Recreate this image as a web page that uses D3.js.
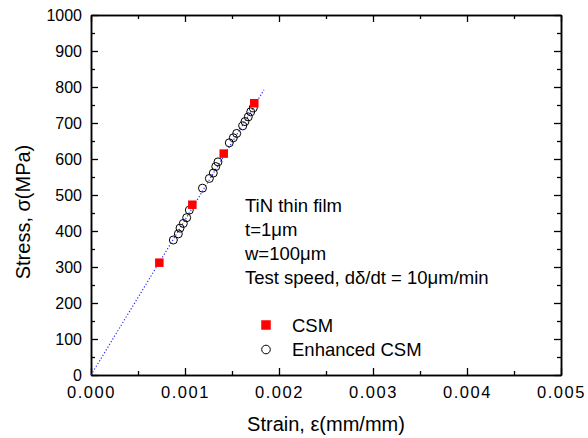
<!DOCTYPE html>
<html>
<head>
<meta charset="utf-8">
<script src="https://cdn.jsdelivr.net/npm/d3@7"></script>
<style>
  html, body { margin: 0; padding: 0; background: #fff; }
  svg { display: block; font-family: "Liberation Sans", Arial, sans-serif; }
</style>
</head>
<body>
<svg id="chart" width="588" height="438"></svg>
<script>
// CSM measurements (strain, stress in MPa)
const csmStrain = [0.000727, 0.001078, 0.001412, 0.001737];
const csmStress = [312, 473, 615, 755];

// Enhanced CSM measurements
const ecsmStrain = [0.000876, 0.000929, 0.000947, 0.000982, 0.001018, 0.001046,
                    0.001186, 0.001259, 0.001301, 0.001327, 0.001351,
                    0.001471, 0.001514, 0.001550, 0.001614, 0.001638, 0.001673, 0.001699, 0.001727];
const ecsmStress = [375, 392, 408, 421, 437, 458,
                    519, 546, 561, 579, 592,
                    645, 659, 671, 692, 704, 717, 731, 742];

// Linear elastic fit through the origin
const fitStrain = [0, 0.00184];
const fitStress = [0, 792];

// Axis ticks
const xTicks = [0, 0.001, 0.002, 0.003, 0.004, 0.005];
const xMinor = [0.0005, 0.0015, 0.0025, 0.0035, 0.0045];
const yTicks = [0, 100, 200, 300, 400, 500, 600, 700, 800, 900, 1000];
const yMinor = [50, 150, 250, 350, 450, 550, 650, 750, 850, 950];

const noteLines = ["TiN thin film", "t=1\u03bcm", "w=100\u03bcm", "Test speed, d\u03b4/dt = 10\u03bcm/min"];
const legendLabels = ["CSM", "Enhanced CSM"];

const svg = d3.select("#chart");
const x = d3.scaleLinear().domain([0, 0.005]).range([91, 561]);
const y = d3.scaleLinear().domain([0, 1000]).range([375, 15]);

// Frame axes with inward ticks on all four sides
function styleAxis(g) {
  g.select(".domain").attr("stroke", "#000").attr("stroke-width", 1.5);
  g.selectAll(".tick line").attr("stroke", "#000").attr("stroke-width", 1.3);
}

const fmtX = d3.format(".3f");
svg.append("g").attr("transform", `translate(0,${y(0)})`)
  .call(d3.axisBottom(x).tickValues(xTicks).tickFormat(fmtX).tickSizeInner(-7).tickSizeOuter(0).tickPadding(11))
  .call(styleAxis)
  .call(g => g.selectAll("text").attr("font-size", 16.5).attr("fill", "#000")
      .attr("font-family", "Liberation Sans, Arial, sans-serif").style("letter-spacing", "1.5px"));
svg.append("g").attr("transform", `translate(0,${y(0)})`)
  .call(d3.axisBottom(x).tickValues(xMinor).tickFormat("").tickSizeInner(-4).tickSizeOuter(0))
  .call(styleAxis);

svg.append("g").attr("transform", `translate(0,${y(1000)})`)
  .call(d3.axisTop(x).tickValues(xTicks).tickFormat("").tickSizeInner(-7).tickSizeOuter(0))
  .call(styleAxis);
svg.append("g").attr("transform", `translate(0,${y(1000)})`)
  .call(d3.axisTop(x).tickValues(xMinor).tickFormat("").tickSizeInner(-4).tickSizeOuter(0))
  .call(styleAxis);

svg.append("g").attr("transform", `translate(${x(0)},0)`)
  .call(d3.axisLeft(y).tickValues(yTicks).tickFormat(d3.format("d")).tickSizeInner(-7).tickSizeOuter(0).tickPadding(9))
  .call(styleAxis)
  .call(g => g.selectAll("text").attr("font-size", 16).attr("fill", "#000")
      .attr("font-family", "Liberation Sans, Arial, sans-serif"));
svg.append("g").attr("transform", `translate(${x(0)},0)`)
  .call(d3.axisLeft(y).tickValues(yMinor).tickFormat("").tickSizeInner(-4).tickSizeOuter(0))
  .call(styleAxis);

svg.append("g").attr("transform", `translate(${x(0.005)},0)`)
  .call(d3.axisRight(y).tickValues(yTicks).tickFormat("").tickSizeInner(-7).tickSizeOuter(0))
  .call(styleAxis);
svg.append("g").attr("transform", `translate(${x(0.005)},0)`)
  .call(d3.axisRight(y).tickValues(yMinor).tickFormat("").tickSizeInner(-4).tickSizeOuter(0))
  .call(styleAxis);

// Axis titles
svg.append("text")
  .attr("x", (x(0) + x(0.005)) / 2).attr("y", 431)
  .attr("text-anchor", "middle").attr("font-size", 20)
  .text("Strain, \u03b5(mm/mm)");
svg.append("text")
  .attr("transform", `translate(30,${212}) rotate(-90)`)
  .attr("text-anchor", "middle").attr("font-size", 20)
  .text("Stress, \u03c3(MPa)");

// Dotted elastic fit line
const fitData = fitStrain.map((s, i) => [s, fitStress[i]]);
svg.append("path")
  .datum(fitData)
  .attr("d", d3.line().x(d => x(d[0])).y(d => y(d[1])))
  .attr("fill", "none").attr("stroke", "#2b2bff").attr("stroke-width", 1.2)
  .attr("stroke-dasharray", "1.2,2");

// Enhanced CSM circles
const ecsm = ecsmStrain.map((s, i) => ({ s, v: ecsmStress[i] }));
svg.append("g").selectAll("circle").data(ecsm).join("circle")
  .attr("cx", d => x(d.s)).attr("cy", d => y(d.v)).attr("r", 4)
  .attr("fill", "none").attr("stroke", "#000").attr("stroke-width", 1);

// CSM squares
const sq = 8.5;
const csm = csmStrain.map((s, i) => ({ s, v: csmStress[i] }));
svg.append("g").selectAll("rect").data(csm).join("rect")
  .attr("x", d => x(d.s) - sq / 2).attr("y", d => y(d.v) - sq / 2)
  .attr("width", sq).attr("height", sq).attr("fill", "#ff0000");

// Test-condition note
svg.append("g").selectAll("text").data(noteLines).join("text")
  .attr("x", 245).attr("y", (d, i) => 212 + i * 24)
  .attr("font-size", 18.5).attr("fill", "#000")
  .text(d => d);

// Legend
const legend = svg.append("g");
legend.append("rect").attr("x", 266 - 4.75).attr("y", 325 - 4.75)
  .attr("width", 9.5).attr("height", 9.5).attr("fill", "#ff0000");
legend.append("circle").attr("cx", 266).attr("cy", 349.5).attr("r", 4.3)
  .attr("fill", "none").attr("stroke", "#000").attr("stroke-width", 1);
legend.selectAll("text").data(legendLabels).join("text")
  .attr("x", 292).attr("y", (d, i) => 332 + i * 23.5)
  .attr("font-size", 18.5).attr("fill", "#000")
  .text(d => d);
</script>
</body>
</html>
